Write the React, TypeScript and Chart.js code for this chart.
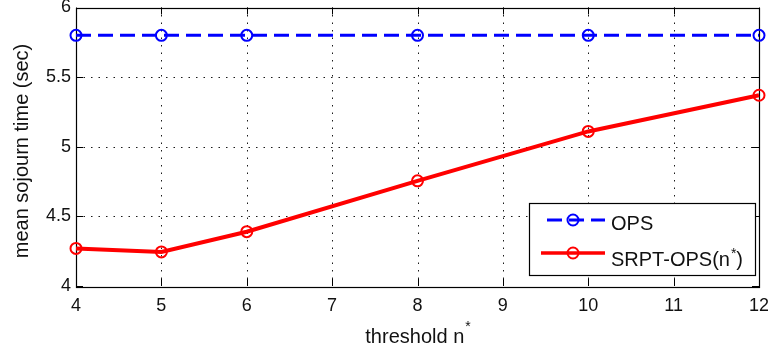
import { useEffect, useRef } from 'react';
import { Chart, registerables } from 'chart.js';

Chart.register(...registerables);

const xValues = [4, 5, 6, 8, 10, 12];
const opsValues = [5.8, 5.8, 5.8, 5.8, 5.8, 5.8];
const srptValues = [4.27, 4.245, 4.39, 4.755, 5.11, 5.37];
const xTicks = [4, 5, 6, 7, 8, 9, 10, 11, 12];
const yTicks = [4, 4.5, 5, 5.5, 6];
const legendOps = ['OPS'];
const legendSrpt = ['SRPT-OPS(n', '*', ')'];
const xTitle = ['threshold n', '*'];
const yTitle = 'mean sojourn time (sec)';

const BLUE = '#0000FF';
const RED = '#FF0000';
const FONT = '"Liberation Sans", Arial, Helvetica, sans-serif';

const framePlugin = {
  id: 'matlabFrame',
  beforeDatasetsDraw(chart: any) {
    const { ctx, chartArea: a, scales } = chart;
    const x = scales.x;
    const y = scales.y;
    ctx.save();
    ctx.strokeStyle = '#1a1a1a';
    ctx.lineWidth = 1;
    ctx.setLineDash([1.5, 6]);
    for (const t of xTicks) {
      if (t === xTicks[0] || t === xTicks[xTicks.length - 1]) continue;
      const px = Math.round(x.getPixelForValue(t)) + 0.5;
      ctx.beginPath();
      ctx.moveTo(px, a.top);
      ctx.lineTo(px, a.bottom);
      ctx.stroke();
    }
    for (const t of yTicks) {
      if (t === yTicks[0] || t === yTicks[yTicks.length - 1]) continue;
      const py = Math.round(y.getPixelForValue(t)) + 0.5;
      ctx.beginPath();
      ctx.moveTo(a.left, py);
      ctx.lineTo(a.right, py);
      ctx.stroke();
    }
    ctx.setLineDash([]);
    ctx.strokeStyle = '#000';
    const tl = 7;
    for (const t of xTicks) {
      const px = Math.round(x.getPixelForValue(t)) + 0.5;
      ctx.beginPath();
      ctx.moveTo(px, a.bottom);
      ctx.lineTo(px, a.bottom - tl);
      ctx.moveTo(px, a.top);
      ctx.lineTo(px, a.top + tl);
      ctx.stroke();
    }
    for (const t of yTicks) {
      const py = Math.round(y.getPixelForValue(t)) + 0.5;
      ctx.beginPath();
      ctx.moveTo(a.left, py);
      ctx.lineTo(a.left + tl, py);
      ctx.moveTo(a.right, py);
      ctx.lineTo(a.right - tl, py);
      ctx.stroke();
    }
    ctx.lineWidth = 1.2;
    ctx.strokeRect(Math.round(a.left) + 0.5, Math.round(a.top) + 0.5, Math.round(a.right - a.left), Math.round(a.bottom - a.top));
    ctx.restore();
  },
  afterDraw(chart: any) {
    const { ctx, chartArea: a } = chart;
    ctx.save();
    // axis titles
    ctx.fillStyle = '#111';
    ctx.font = `20px ${FONT}`;
    ctx.textBaseline = 'alphabetic';
    const mainW = ctx.measureText(xTitle[0]).width;
    ctx.font = `14px ${FONT}`;
    const supW = ctx.measureText(xTitle[1]).width;
    const cx = (a.left + a.right) / 2;
    const sx = cx - (mainW + supW) / 2;
    ctx.font = `20px ${FONT}`;
    ctx.textAlign = 'left';
    ctx.fillText(xTitle[0], sx, 343);
    ctx.font = `14px ${FONT}`;
    ctx.fillText(xTitle[1], sx + mainW + 1, 331);

    ctx.save();
    ctx.translate(28, 151);
    ctx.rotate(-Math.PI / 2);
    ctx.font = `20px ${FONT}`;
    ctx.textAlign = 'center';
    ctx.fillText(yTitle, 0, 0);
    ctx.restore();

    // legend
    const bx = 529.5, by = 203.5, bw = 226, bh = 72;
    ctx.fillStyle = '#fff';
    ctx.fillRect(bx, by, bw, bh);
    ctx.strokeStyle = '#000';
    ctx.lineWidth = 1.2;
    ctx.strokeRect(bx, by, bw, bh);

    const drawMarker = (mx: number, my: number, color: string) => {
      ctx.setLineDash([]);
      ctx.strokeStyle = color;
      ctx.lineWidth = 2;
      ctx.beginPath();
      ctx.arc(mx, my, 5.5, 0, Math.PI * 2);
      ctx.stroke();
    };
    // OPS row
    ctx.strokeStyle = BLUE;
    ctx.lineWidth = 3;
    ctx.setLineDash([15, 7]);
    ctx.lineDashOffset = 0;
    ctx.beginPath();
    ctx.moveTo(547, 220);
    ctx.lineTo(605, 220);
    ctx.stroke();
    drawMarker(573, 220, BLUE);
    // SRPT row
    ctx.setLineDash([]);
    ctx.strokeStyle = RED;
    ctx.lineWidth = 3.5;
    ctx.beginPath();
    ctx.moveTo(541, 253);
    ctx.lineTo(605, 253);
    ctx.stroke();
    drawMarker(573, 253, RED);

    ctx.fillStyle = '#111';
    ctx.textAlign = 'left';
    ctx.font = `20px ${FONT}`;
    ctx.fillText(legendOps[0], 611, 230);
    ctx.fillText(legendSrpt[0], 611, 265.5);
    const w0 = ctx.measureText(legendSrpt[0]).width;
    ctx.font = `14px ${FONT}`;
    ctx.fillText(legendSrpt[1], 611 + w0 + 1, 258);
    const w1 = ctx.measureText(legendSrpt[1]).width;
    ctx.font = `20px ${FONT}`;
    ctx.fillText(legendSrpt[2], 611 + w0 + w1 + 1, 265.5);
    ctx.restore();
  },
};

export default function App() {
  const ref = useRef<HTMLCanvasElement | null>(null);
  useEffect(() => {
    document.body.style.margin = '0';
    const canvas = ref.current;
    if (!canvas) return;
    const chart = new Chart(canvas, {
      type: 'line',
      data: {
        datasets: [
          {
            label: legendOps[0],
            data: xValues.map((x, i) => ({ x, y: opsValues[i] })),
            borderColor: BLUE,
            borderWidth: 3,
            borderDash: [15, 7],
            pointRadius: 5.5,
            pointBorderWidth: 2,
            pointBorderColor: BLUE,
            pointBackgroundColor: 'rgba(0,0,0,0)',
            fill: false,
            tension: 0,
            clip: false as any,
          },
          {
            label: legendSrpt.join(''),
            data: xValues.map((x, i) => ({ x, y: srptValues[i] })),
            borderColor: RED,
            borderWidth: 4,
            pointRadius: 5.5,
            pointBorderWidth: 2,
            pointBorderColor: RED,
            pointBackgroundColor: 'rgba(0,0,0,0)',
            fill: false,
            tension: 0,
            clip: false as any,
          },
        ],
      },
      options: {
        responsive: false,
        animation: false,
        devicePixelRatio: 1,
        layout: { padding: { top: 6, right: 9, left: 0, bottom: 0 } },
        plugins: { legend: { display: false }, tooltip: { enabled: false } },
        scales: {
          x: {
            type: 'linear',
            min: 4,
            max: 12,
            afterBuildTicks: (s: any) => {
              s.ticks = xTicks.map((v) => ({ value: v }));
            },
            afterFit: (s: any) => {
              s.height = 65;
              s.paddingLeft = 0;
              s.paddingRight = 0;
            },
            grid: { display: false, drawTicks: false },
            border: { display: false },
            ticks: {
              color: '#111',
              font: { family: FONT, size: 18 },
              padding: 9,
              maxRotation: 0,
              autoSkip: false,
              callback: (v: any) => String(v),
            },
          },
          y: {
            type: 'linear',
            min: 4,
            max: 6,
            afterBuildTicks: (s: any) => {
              s.ticks = yTicks.map((v) => ({ value: v }));
            },
            afterFit: (s: any) => {
              s.width = 76;
              s.paddingTop = 0;
              s.paddingBottom = 0;
            },
            grid: { display: false, drawTicks: false },
            border: { display: false },
            ticks: {
              color: '#111',
              font: { family: FONT, size: 18 },
              padding: 5,
              autoSkip: false,
              callback: (v: any) => String(v),
            },
          },
        },
      },
      plugins: [framePlugin],
    });
    return () => chart.destroy();
  }, []);
  return (
    <div style={{ position: 'absolute', left: 0, top: 0, width: 768, height: 351 }}>
      <canvas ref={ref} width={768} height={351} style={{ display: 'block' }} />
    </div>
  );
}
